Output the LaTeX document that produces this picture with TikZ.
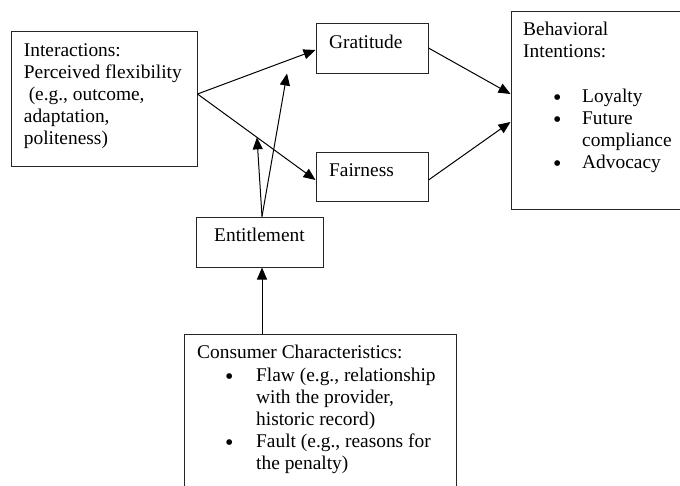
\documentclass[tikz,border=0pt]{standalone}
\usepackage{fontspec}
\setmainfont{Liberation Serif}
\usetikzlibrary{arrows.meta,calc}
% stacked left-aligned lines whose baseline is that of the first line
\newcommand\tlines[1]{\vtop{\halign{##\hfil\cr#1\crcr}}}
% list bullet, slightly larger than the text's own
\newcommand\bigbul{\raisebox{-3pt}{\fontsize{24}{24}\selectfont •}}
\begin{document}
\begin{tikzpicture}[x=1pt,y=-1pt,
  box/.style={draw=black!85, line width=1pt, rectangle, inner sep=0pt},
  txt/.style={inner sep=0pt, anchor=base west,
    font=\fontsize{19.4}{22.2}\selectfont},
  arr/.style={line width=1pt, -{Triangle[length=12pt,width=10pt]}}]
\useasboundingbox (0,0) rectangle (680,485);
\clip (0,0) rectangle (680,485);

% boxes
\node[box, minimum width=186pt, minimum height=135pt] (inter) at (104,98.5) {};
\node[box, minimum width=112pt, minimum height=50pt] (grat) at (372,48) {};
\node[box, minimum width=112pt, minimum height=49pt] (fair) at (372,176.5) {};
\node[box, minimum width=189pt, minimum height=198pt] (beh) at (605.5,110) {};
\node[box, minimum width=127pt, minimum height=50pt] (ent) at (259.5,242) {};
\node[box, minimum width=272pt, minimum height=166pt] (cons) at (320,417) {};

% texts
\node[txt] (inter-t) at (23.7,56) {\tlines{Interactions:\cr Perceived flexibility\cr \ (e.g., outcome,\cr adaptation,\cr politeness)}};
\node[txt] (grat-t) at (329,48) {Gratitude};
\node[txt] (fair-t) at (329,176) {Fairness};
\node[txt] (beh-t) at (523,35) {\tlines{Behavioral\cr Intentions:}};
\node[txt] (beh-l) at (553,102) {\tlines{\makebox[29pt][l]{\bigbul}Loyalty\cr \makebox[29pt][l]{\bigbul}Future\cr \hspace*{29pt}compliance\cr \makebox[29pt][l]{\bigbul}Advocacy}};
\node[txt] (ent-t) at (214,241) {Entitlement};
\node[txt] (cons-t) at (197,358) {Consumer Characteristics:};
\node[txt] (cons-l) at (225,381) {\tlines{\makebox[31pt][l]{\bigbul}Flaw (e.g., relationship\cr \hspace*{31pt}with the provider,\cr \hspace*{31pt}historic record)\cr \makebox[31pt][l]{\bigbul}Fault (e.g., reasons for\cr \hspace*{31pt}the penalty)}};

% connectors
\coordinate (a) at ([yshift=4.5pt]inter.east);
\coordinate (b) at ([yshift=-3.5pt]fair.west);
\coordinate (mod) at ($(a)!0.504!(b)$);
\draw[arr] (a) -- ([yshift=-2pt]grat.west);
\draw[arr] (a) -- (b);
\draw[arr] ([xshift=2.5pt]ent.north) -- (mod);
\draw[arr] ([xshift=2.5pt]ent.north) -- ([xshift=-85pt]grat.south);
\draw[arr] ([xshift=2.5pt]ent.south |- cons.north) -- ([xshift=2.5pt]ent.south);
\draw[arr] (grat.east) -- ([yshift=16pt]beh.west);
\draw[arr] ([yshift=-3.5pt]fair.east) -- ([yshift=-12pt]beh.west);
\end{tikzpicture}
\end{document}
